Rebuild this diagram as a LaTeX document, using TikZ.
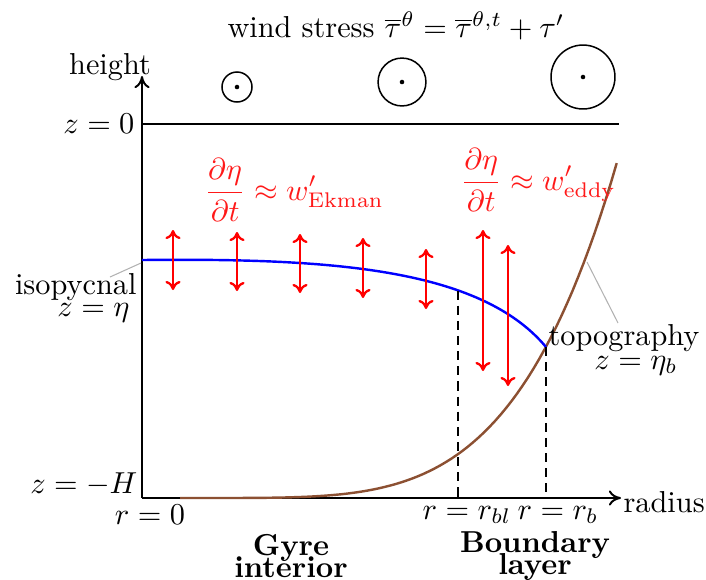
\documentclass[tikz,border=0pt]{standalone}
\usetikzlibrary{arrows.meta}
\definecolor{topo}{RGB}{140,80,50}
\begin{document}
\begin{tikzpicture}[x=0.33pt,y=-0.33pt,
  axis/.style={line width=0.65pt,-{To[length=4pt,width=5pt]}},
  redarr/.style={red,line width=0.75pt,{To[length=3pt,width=5pt]}-{To[length=3pt,width=5pt]}},
  leader/.style={gray!60,line width=0.35pt},
  dashv/.style={line width=0.65pt,dash pattern=on 3pt off 2pt},
  windc/.style={circle,draw,line width=0.5pt,inner sep=0pt},
  dot/.style={circle,fill,inner sep=0pt,minimum size=1.5pt},
  rlbl/.style={text=red!90},
  regionlbl/.style={font=\bfseries,align=center,inner sep=0pt}
]
\useasboundingbox (0,0) rectangle (706,579);
% axes
\coordinate (O) at (142,498);
\coordinate (ytop) at (142,76);
\coordinate (xend) at (621,498);
\draw[axis] (O) -- (ytop);
\draw[axis] (O) -- (xend);
\node (height) at (110,67) {height};
\node[anchor=base west,inner sep=0pt] (radius) at (623,512) {radius};
% surface
\coordinate (s0) at (142,124);
\coordinate (s1) at (619,124);
\draw[line width=0.65pt] (s0) -- (s1);
\node[anchor=east,inner sep=0pt] (z0) at (135,124) {$z=0$};
\node[anchor=east,inner sep=0pt] (zH) at (138,484) {$z=-H$};
% title and wind circles
\node (title) at (396,26) {wind stress $\overline{\tau}^{\theta}=\overline{\tau}^{\theta,t}+\tau'$};
\node[windc,minimum size=9.9pt] (c1) at (237,87) {};
\node[dot] at (c1) {};
\node[windc,minimum size=15.8pt] (c2) at (402,82) {};
\node[dot] at (c2) {};
\node[windc,minimum size=21.1pt] (c3) at (583,77) {};
\node[dot] at (c3) {};
% topography
\draw[topo,line width=0.8pt] plot[domain=0.0:1,samples=80] ({180+437*\x},{498-336*(\x)^4.5});
% isopycnal
\draw[blue,line width=0.8pt] (142,260) coordinate (iso0) .. controls (330,258) and (480,268) .. coordinate[pos=0.68] (isobl) (546,347) coordinate (isob);
% dashed verticals
\coordinate (xbl) at (isobl |- O);
\coordinate (xb) at (isob |- O);
\draw[dashv] (isobl) -- (xbl);
\draw[dashv] (isob) -- (xb);
\node (r0) at (150,515) {$r=0$};
\node (rbl) at (467,515) {$r=r_{bl}$};
\node (rb) at (558,515) {$r=r_b$};
% red arrows
\foreach \xx/\ya/\yb [count=\i] in {173/230/290, 237/232/291, 300/234/293, 363/238/298, 426/249/309, 483/230/371, 508/245/386}{
  \coordinate (ra\i) at (\xx,\ya);
  \coordinate (rb\i) at (\xx,\yb);
  \draw[redarr] (ra\i) -- (rb\i);
}
% red labels
\node[rlbl,anchor=west,inner sep=0pt] (ekman) at (204,190) {$\displaystyle\frac{\partial\eta}{\partial t}\approx w'_{\mathrm{Ekman}}$};
\node[rlbl,anchor=west,inner sep=0pt] (eddy) at (460,180) {$\displaystyle\frac{\partial\eta}{\partial t}\approx w'_{\mathrm{eddy}}$};
% isopycnal label
\node[anchor=base east,inner sep=0pt] (iso1) at (137,294) {isopycnal};
\node[anchor=base east,inner sep=0pt] (iso2) at (130,316) {$z=\eta$};
\coordinate (isoL) at (110,277);
\coordinate (isoR) at (141,263);
\draw[leader] (isoL) -- (isoR);
% topography label
\node[anchor=base west,inner sep=0pt] (topo1) at (548,345) {topography};
\node[anchor=base,inner sep=0pt] (topo2) at (636,369) {$z=\eta_b$};
\coordinate (topoA) at (587,262);
\coordinate (topoB) at (618,323);
\draw[leader] (topoA) -- (topoB);
% region labels
\node[regionlbl] (gyre) at (291,556) {Gyre\\[-5pt]interior};
\node[regionlbl] (bl) at (535,556) {Boundary\\[-5pt]layer};
\end{tikzpicture}
\end{document}
